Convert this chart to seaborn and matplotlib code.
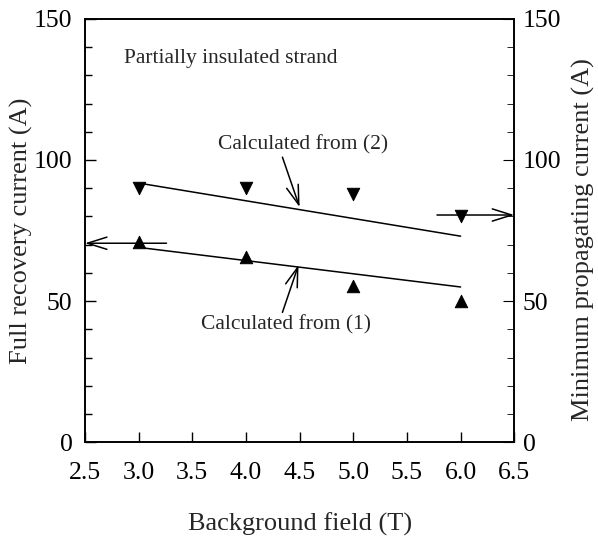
import numpy as np
import pandas as pd
import matplotlib
matplotlib.use("Agg")
import matplotlib.pyplot as plt
from matplotlib.ticker import MultipleLocator
import seaborn as sns

field = [3.0, 4.0, 5.0, 6.0]
full_recovery = [71.0, 65.5, 55.5, 50.0]       # up triangles, left axis
min_propagating = [90.0, 90.0, 88.0, 80.0]     # down triangles, right axis

# calculated lines
calc_field = [3.05, 6.0]
calc_1 = [68.8, 55.0]
calc_2 = [91.5, 73.0]

sns.set_style("ticks")
plt.rcParams['font.family'] = ['Liberation Serif', 'DejaVu Serif']

fig = plt.figure(figsize=(5.98, 5.38), dpi=100)
ax = fig.add_axes([0.142, 0.178, 0.718, 0.787])

pts = pd.DataFrame({"field": field, "full": full_recovery, "prop": min_propagating})
sns.scatterplot(data=pts, x="field", y="full", marker="^", s=80, color="black",
                edgecolor="black", ax=ax, zorder=3)
sns.scatterplot(data=pts, x="field", y="prop", marker="v", s=80, color="black",
                edgecolor="black", ax=ax, zorder=3)

calc = pd.DataFrame({"field": calc_field, "c1": calc_1, "c2": calc_2})
sns.lineplot(data=calc, x="field", y="c1", color="black", lw=1.1, ax=ax)
sns.lineplot(data=calc, x="field", y="c2", color="black", lw=1.1, ax=ax)

ax.set_xlim(2.5, 6.5)
ax.set_ylim(0, 150)
ax.xaxis.set_major_locator(MultipleLocator(0.5))
ax.yaxis.set_major_locator(MultipleLocator(50))
ax.yaxis.set_minor_locator(MultipleLocator(10))
ax.set_xticklabels([f"{v:.1f}" for v in ax.get_xticks()])

for sp in ax.spines.values():
    sp.set_linewidth(1.2)
    sp.set_color("black")

ax.tick_params(axis="both", which="both", direction="in", right=True,
               labelsize=18.5, colors="black", width=1.0)
ax.tick_params(axis="y", which="major", length=8, pad=9)
ax.tick_params(axis="y", which="minor", length=5)
ax.tick_params(axis="x", which="major", length=7, pad=14)

ax.set_xlabel("Background field (T)", fontsize=19)
ax.set_ylabel("Full recovery current (A)", fontsize=19)
ax.xaxis.set_label_coords(0.5, -0.165)
ax.yaxis.set_label_coords(-0.121, 0.5)

ax2 = ax.twinx()
ax2.set_ylim(0, 150)
ax2.yaxis.set_major_locator(MultipleLocator(50))
ax2.yaxis.set_minor_locator(MultipleLocator(10))
ax2.tick_params(axis="y", which="both", direction="in", labelsize=18.5, colors="black")
ax2.tick_params(axis="y", which="major", length=8, pad=6)
ax2.tick_params(axis="y", which="minor", length=5)
ax2.set_ylabel("Minimum propagating current (A)", fontsize=19)
ax2.yaxis.set_label_coords(1.135, 0.478)
for sp in ax2.spines.values():
    sp.set_linewidth(1.2)
    sp.set_color("black")

arrow = dict(arrowstyle="->,head_length=0.7,head_width=0.22", color="black",
             lw=1.1, mutation_scale=20, shrinkA=0, shrinkB=0)

ax.text(2.86, 136, "Partially insulated strand", fontsize=15.5, va="center", ha="left")

ax.text(4.53, 105.5, "Calculated from (2)", fontsize=15.5, ha="center", va="center")
ax.annotate("", xy=(4.5, 83.3), xytext=(4.34, 101), arrowprops=arrow)
ax.text(4.37, 41.5, "Calculated from (1)", fontsize=15.5, ha="center", va="center")
ax.annotate("", xy=(4.49, 62.8), xytext=(4.34, 46), arrowprops=arrow)

# arrows pointing to the axis each series belongs to
ax.annotate("", xy=(2.5, 70.5), xytext=(3.26, 70.5), arrowprops=arrow)
ax.annotate("", xy=(6.5, 80.5), xytext=(5.78, 80.5), arrowprops=arrow)

fig.savefig("out.png", dpi=100, facecolor="white")
